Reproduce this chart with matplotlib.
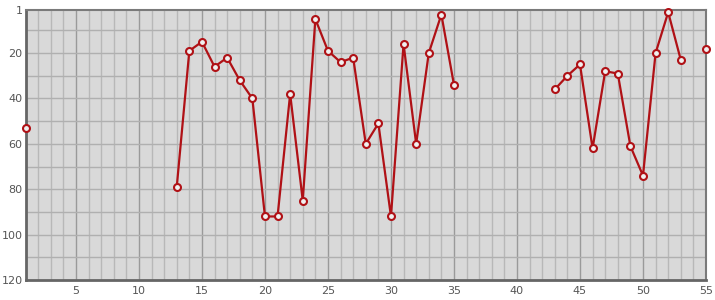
import matplotlib.pyplot as plt
import numpy as np

# 数据: x 为 1..55, 缺失值用 nan
x = np.arange(1, 56)
ranks = [53] + [np.nan] * 11 + [
    79, 19, 15, 26, 22, 32, 40, 92, 92, 38, 85, 5, 19, 24, 22, 60, 51, 92, 16, 60, 20, 3, 34,
] + [np.nan] * 7 + [
    36, 30, 25, 62, 28, 29, 61, 74, 20, 2, 23, np.nan, 18,
]
ranks = np.array(ranks, dtype=float)

x_ticks = [5, 10, 15, 20, 25, 30, 35, 40, 45, 50, 55]
y_ticks = [1, 20, 40, 60, 80, 100, 120]

fig = plt.figure(figsize=(7.15, 3.0), dpi=100)
ax = fig.add_axes([0.0357, 0.0667, 0.9517, 0.9])
ax.set_facecolor('#d9d9d9')

# 网格: 每个单位一条细线, 5 的倍数更深
for xi in range(1, 56):
    c = '#9a9a9a' if xi % 5 == 0 else '#b8b8b8'
    ax.axvline(xi, color=c, linewidth=1.0, zorder=1)
for yi in range(10, 120, 10):
    ax.axhline(yi, color='#b0b0b0', linewidth=1.0, zorder=1)

ax.plot(x, ranks, color='#b01116', linewidth=1.6, marker='o', markersize=5,
        markerfacecolor='#f0f0f0', markeredgecolor='#b01116', markeredgewidth=1.5,
        zorder=3, clip_on=False)

ax.set_xlim(1, 55)
ax.set_ylim(120, 1)
ax.set_xticks(x_ticks)
ax.set_yticks(y_ticks)
ax.tick_params(axis='both', length=0, labelsize=8, colors='#555555')
ax.tick_params(axis='y', pad=2)
ax.tick_params(axis='x', pad=4)

for side in ['left', 'bottom']:
    ax.spines[side].set_color('#666666')
    ax.spines[side].set_linewidth(2.0)
for side in ['top', 'right']:
    ax.spines[side].set_color('#7a7a7a')
    ax.spines[side].set_linewidth(1.5)

plt.savefig('out.png', dpi=100)
